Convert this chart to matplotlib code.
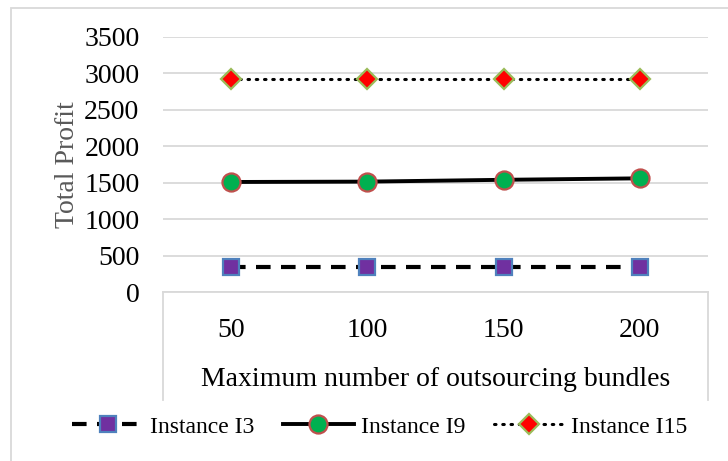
import matplotlib
matplotlib.use("Agg")
import matplotlib.pyplot as plt
from matplotlib.lines import Line2D
from matplotlib.patches import Rectangle

plt.rcParams['font.family'] = ['Liberation Serif', 'DejaVu Serif']

# data
categories = ["50", "100", "150", "200"]
instance_i3 = [340, 340, 340, 340]
instance_i9 = [1510, 1515, 1540, 1560]
instance_i15 = [2920, 2920, 2920, 2920]
y_ticks = [0, 500, 1000, 1500, 2000, 2500, 3000, 3500]

W, H = 728, 461
fig = plt.figure(figsize=(W / 100, H / 100), dpi=100)
ax = fig.add_axes([163 / W, 1 - 292 / H, (708 - 163) / W, (292 - 37) / H])

x = [i + 0.5 for i in range(len(categories))]
ax.plot(x, instance_i3, color='black', lw=3, ls=(0, (3.5, 2.5)),
        marker='s', ms=12, mfc='#7030A0', mec='#4F81BD', mew=1.6, label='Instance I3')
ax.plot(x, instance_i9, color='black', lw=2.8, ls='-',
        marker='o', ms=13, mfc='#00B050', mec='#C0504D', mew=1.6, label='Instance I9')
ax.plot(x, instance_i15, color='black', lw=2.2, ls=(0, (0.5, 2.2)), dash_capstyle='round',
        marker='D', ms=10, mfc='#FF0000', mec='#9BBB59', mew=1.6, label='Instance I15')

ax.set_xlim(0, len(categories))
ax.set_ylim(0, 3500)
ax.set_yticks(y_ticks)
ax.set_yticklabels([str(v) for v in y_ticks], fontsize=20)
ax.set_xticks(x)
ax.set_xticklabels(categories, fontsize=20)
ax.tick_params(axis='y', length=0, pad=17)
ax.tick_params(axis='x', length=0, pad=19)
ax.grid(axis='y', color='#D9D9D9', lw=1.3)
ax.set_axisbelow(True)
for s in ['top', 'right', 'left']:
    ax.spines[s].set_visible(False)
ax.spines['bottom'].set_color('#D9D9D9')
ax.spines['bottom'].set_linewidth(1.3)

ax.set_ylabel("Total Profit", fontsize=20, color='#595959', labelpad=3)
ax.set_xlabel("Maximum number of outsourcing bundles", fontsize=20, labelpad=17)

# category box under the axis
for px in (163, 708):
    fig.add_artist(Line2D([px / W, px / W], [1 - 292 / H, 1 - 400 / H],
                          color='#D9D9D9', lw=1.3))

# outer chart border
fig.add_artist(Rectangle((11 / W, -0.1), 1.2, 1 - 8 / H + 0.1, fill=False,
                         ec='#D9D9D9', lw=1.3, transform=fig.transFigure))

fig.legend(loc='center', bbox_to_anchor=(380 / W, 1 - 427 / H), ncol=3,
           frameon=False, fontsize=17, handlelength=3.0, handletextpad=0.3,
           columnspacing=1.2)

fig.savefig("out.png", dpi=100)
